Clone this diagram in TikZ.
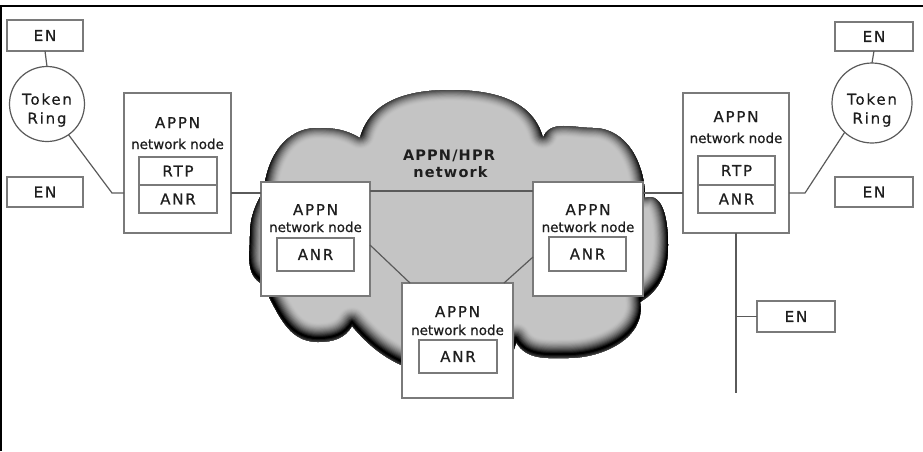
\documentclass[tikz,border=0pt]{standalone}
\usepackage{fontspec}
\setmainfont{DejaVu Sans}[FakeBold=0.3]
\newfontfamily\smallfont[FakeBold=0.6]{DejaVu Sans}
\newfontfamily\spc[LetterSpace=12,FakeBold=0.6]{DejaVu Sans}
\newfontfamily\spcb[LetterSpace=8]{DejaVu Sans Bold}
\usetikzlibrary{calc}
\definecolor{cloudfill}{HTML}{C4C4C4}
\definecolor{boxc}{HTML}{7A7A7A}
\definecolor{linec}{HTML}{5A5A5A}
\definecolor{txtc}{HTML}{1E1E1E}
\def\cloudpath{(264,-190) to[out=85,in=180] (317,-128) to[out=0,in=150] (360,-138)
 to[out=75,in=180] (450,-90) to[out=0,in=105] (543,-138)
 to[out=70,in=180] (593,-128) to[out=0,in=90] (645,-198)
 to[out=20,in=90] (668,-245) to[out=-90,in=30] (640,-302)
 to[out=-80,in=0] (568,-358) to[out=180,in=-60] (516,-342)
 to[out=-100,in=0] (460,-376) to[out=180,in=-50] (352,-326)
 to[out=-120,in=0] (318,-342) to[out=180,in=-60] (262,-284)
 to[out=150,in=-90] (250,-236) to[out=90,in=-120] (264,-190) -- cycle}
\begin{document}
\begin{tikzpicture}[x=1pt,y=1pt,
  box/.style={draw=boxc,line width=1.3pt,fill=white,inner sep=0pt,outer sep=0pt},
  conn/.style={draw=linec,line width=1.2pt},
  ringnode/.style={draw=linec,line width=1.2pt,circle,fill=white,inner sep=0pt,outer sep=0pt},
  caps/.style={inner sep=0pt,text=txtc,font=\spc\fontsize{15}{19}\selectfont},
  small/.style={inner sep=0pt,text=txtc,font=\smallfont\fontsize{13.5}{15}\selectfont,anchor=base},
  capsb/.style={caps,anchor=base},
  cloudlbl/.style={inner sep=0pt,text=txtc,font=\spcb\fontsize{14.5}{17}\selectfont,anchor=base},
]
\useasboundingbox (0,0) rectangle (923,-451);
% frame
\draw[line width=2.5pt] (1,-451) -- (1,-6) -- (923,-6);
% cloud
\begin{scope}
  \clip \cloudpath;
  \fill[cloudfill] \cloudpath;
  \foreach \i in {1,...,14}{
    \pgfmathsetmacro{\w}{(15-\i)*2.1}
    \pgfmathsetmacro{\p}{100*(\i/14)^1.6}
    \draw[line width=\w pt, draw=black!\p!cloudfill, line join=round, shift={(0,4)}] \cloudpath;
  }
\end{scope}
% boxes
\node[box,minimum width=76pt,minimum height=31pt] (enlt) at (45,-35.5) {};
\node[box,minimum width=76pt,minimum height=30pt] (enlb) at (45,-192) {};
\node[box,minimum width=78pt,minimum height=29pt] (enrt) at (874,-36.5) {};
\node[box,minimum width=78pt,minimum height=30pt] (enrb) at (874,-192) {};
\node[box,minimum width=78pt,minimum height=31pt] (enrx) at (796,-316.5) {};
\node[ringnode,minimum size=75pt] (ringL) at (47,-104) {};
\node[ringnode,minimum size=80pt] (ringR) at (872,-103) {};
\node[box,minimum width=107pt,minimum height=140pt] (appnL) at (177.5,-163) {};
\node[box,minimum width=106pt,minimum height=140pt] (appnR) at (736,-163) {};
% connectors
\coordinate (kL) at (112,-193);
\coordinate (kR) at (805,-193);
\coordinate (hy) at (0,-191);
\coordinate (vend) at (736,-393);
\draw[conn] (enlt.south) -- (ringL.north);
\draw[conn] (enrt.south) -- (ringR.north);
\draw[conn] (ringL.-55) -- (kL) -- (kL -| appnL.west);
\draw[conn] (appnR.east |- kR) -- (kR) -- (ringR.-133);
\draw[conn] (appnR.south) -- (vend);
\draw[conn] (appnR.south |- enrx.west) -- (enrx.west);
\node[box,minimum width=109pt,minimum height=114pt] (midL) at (315.5,-239) {};
\node[box,minimum width=110pt,minimum height=114pt] (midR) at (588,-239) {};
\node[box,minimum width=111pt,minimum height=115pt] (bot) at (457.5,-340.5) {};
\draw[conn] (appnL.east |- kL) -- (midL.west |- kL);
\draw[conn] (midR.east |- kL) -- (appnR.west |- kL);
\draw[conn] (midL.east |- hy) -- (midR.west |- hy);
\draw[conn] (midL.east |- 0,-245) -- ($(bot.north west)+(8,0)$);
\draw[conn] (midR.west |- 0,-257) -- ($(bot.north east)+(-9,0)$);
% inner boxes
\node[box,minimum width=78pt,minimum height=28pt] (rtpL) at (178,-171) {};
\node[box,minimum width=78pt,minimum height=28pt] (anrL) at (178,-199) {};
\node[box,minimum width=77pt,minimum height=29pt] (rtpR) at (736.5,-170.5) {};
\node[box,minimum width=77pt,minimum height=28pt] (anrR) at (736.5,-199) {};
\node[box,minimum width=77pt,minimum height=33pt] (anrML) at (315.5,-254.5) {};
\node[box,minimum width=77pt,minimum height=34pt] (anrMR) at (587.5,-254) {};
\node[box,minimum width=78pt,minimum height=33pt] (anrB) at (458,-356.5) {};
% texts
\node[caps] (t1) at (enlt.center) {EN};
\node[caps] (t2) at (enlb.center) {EN};
\node[caps] (t3) at (enrt.center) {EN};
\node[caps] (t4) at (enrb.center) {EN};
\node[caps] (t5) at (enrx.center) {EN};
\node[caps,align=center] (t6) at (47,-110) {Token\\Ring};
\node[caps,align=center] (t7) at (872,-110) {Token\\Ring};
\node[caps] (t8) at (rtpL.center) {RTP};
\node[caps] (t9) at (anrL.center) {ANR};
\node[caps] (t10) at (rtpR.center) {RTP};
\node[caps] (t11) at (anrR.center) {ANR};
\node[caps] (t12) at (anrML.center) {ANR};
\node[caps] (t13) at (anrMR.center) {ANR};
\node[caps] (t14) at (anrB.center) {ANR};
\node[capsb] (a1) at (177.5,-128) {APPN};
\node[small] (n1) at (177.5,-149) {network node};
\node[capsb] (a2) at (736,-122) {APPN};
\node[small] (n2) at (736,-143) {network node};
\node[capsb] (a3) at (315.5,-215) {APPN};
\node[small] (n3) at (315.5,-232) {network node};
\node[capsb] (a4) at (588,-215) {APPN};
\node[small] (n4) at (588,-232) {network node};
\node[capsb] (a5) at (457.5,-317) {APPN};
\node[small] (n5) at (457.5,-335) {network node};
\node[cloudlbl] (c1) at (449,-160) {APPN/HPR};
\node[cloudlbl] (c2) at (450.5,-177) {network};
\end{tikzpicture}
\end{document}
